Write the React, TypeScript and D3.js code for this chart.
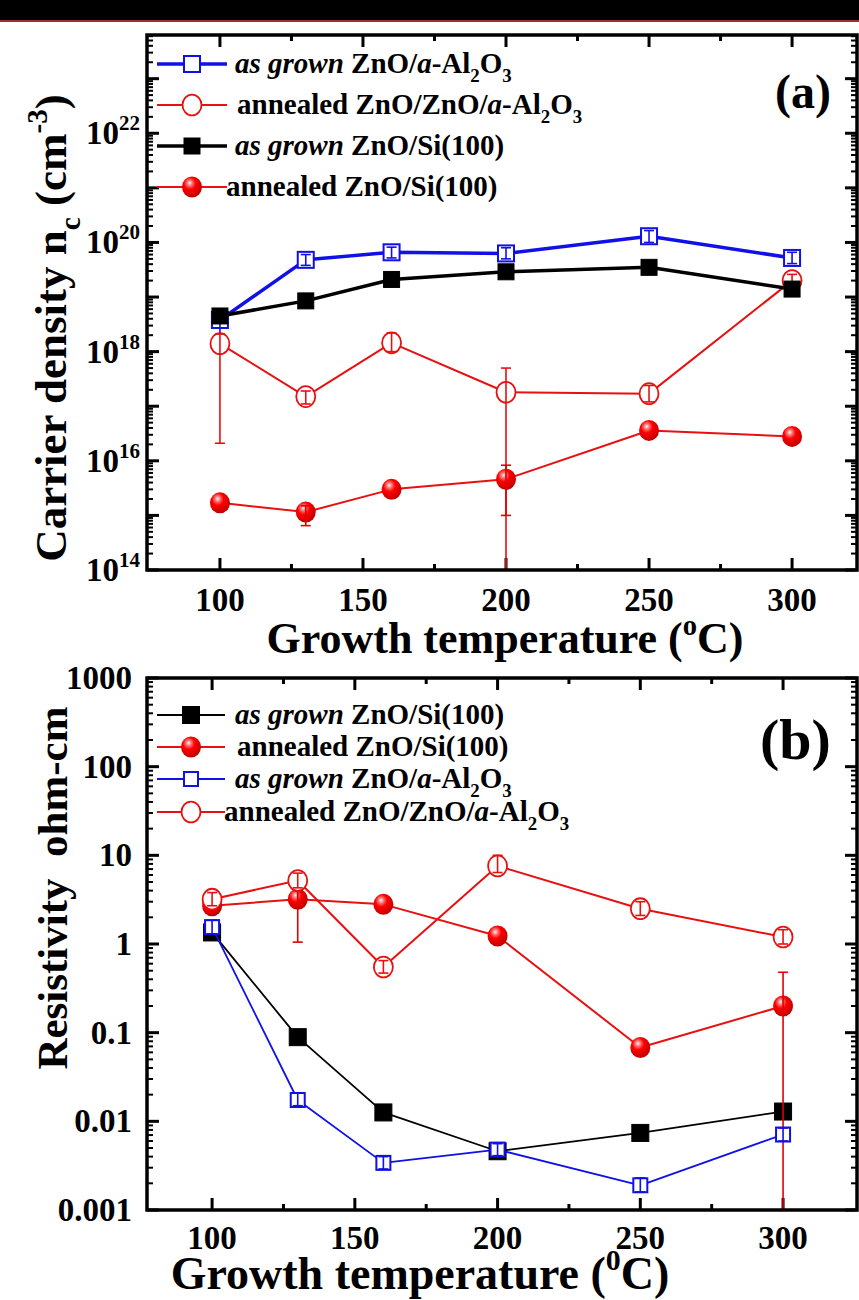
import React from 'react';
import * as d3 from 'd3';

// growth temperatures (°C)
const temps = [100, 130, 160, 200, 250, 300];

// (a) carrier density n_c (cm^-3)
const densAsGrownAl = [3.8e18, 4.8e19, 6.6e19, 6.3e19, 1.3e20, 5.2e19];
const densAnnealedAl = [1.4e18, 1.5e17, 1.45e18, 1.8e17, 1.7e17, 2.0e19];
const densAsGrownSi = [4.5e18, 8.5e18, 2.1e19, 2.9e19, 3.5e19, 1.4e19];
const densAnnealedSi = [1.7e15, 1.15e15, 3.0e15, 4.6e15, 3.6e16, 2.8e16];

// error bar ends [low, high] for (a), null = no bar
const densAsGrownAlErr = [[2.0e18, 5.0e18], [3.8e19, 6.0e19], [5.2e19, 8.2e19], [5.0e19, 8.0e19], [1.0e20, 1.65e20], [4.1e19, 6.6e19]];
const densAnnealedAlErr = [[2.1e16, 2.1e18], [1.1e17, 1.9e17], [1.0e18, 2.2e18], [1e12, 5.0e17], [1.2e17, 2.4e17], [1.5e19, 2.6e19]];
const densAsGrownSiErr = [null, null, null, null, null, null];
const densAnnealedSiErr = [null, [6.5e14, 1.5e15], null, [1.0e15, 8.3e15], null, null];

// (b) resistivity (ohm-cm)
const resAsGrownSi = [1.35, 0.089, 0.0126, 0.0046, 0.0074, 0.0129];
const resAnnealedSi = [2.7, 3.2, 2.8, 1.23, 0.068, 0.2];
const resAsGrownAl = [1.55, 0.0174, 0.0034, 0.0048, 0.0019, 0.0071];
const resAnnealedAl = [3.2, 5.2, 0.55, 7.6, 2.5, 1.2];

const resAsGrownSiErr = [null, null, null, null, null, null];
const resAnnealedSiErr = [null, [1.05, 4.0], null, null, null, [1e-5, 0.48]];
const resAsGrownAlErr = [[1.3, 1.85], [0.015, 0.021], [0.0029, 0.0040], [0.0041, 0.0056], [0.0016, 0.0023], [0.006, 0.0084]];
const resAnnealedAlErr = [[2.7, 3.8], [4.3, 6.3], [0.47, 0.65], [6.4, 10], [2.1, 3.0], [1.0, 1.45]];

const xMajor = [100, 150, 200, 250, 300];
const xMinor = [125, 175, 225, 275];
const resTickLabels = ['0.001', '0.01', '0.1', '1', '10', '100', '1000'];

const FONT = '"Liberation Serif", "Times New Roman", Times, serif';

type Seg = { t: string; it?: boolean; sub?: boolean; sup?: boolean };
type Marker = 'openSquare' | 'filledSquare' | 'openCircle' | 'sphere';
type Series = {
  values: number[];
  err: (number[] | null)[];
  color: string;
  lw: number;
  marker: Marker;
  size: number;
  label: Seg[];
};

const lblAsGrownAl: Seg[] = [{ t: 'as grown', it: true }, { t: ' ZnO/' }, { t: 'a', it: true }, { t: '-Al' }, { t: '2', sub: true }, { t: 'O' }, { t: '3', sub: true }];
const lblAnnealedAl: Seg[] = [{ t: 'annealed ZnO/ZnO/' }, { t: 'a', it: true }, { t: '-Al' }, { t: '2', sub: true }, { t: 'O' }, { t: '3', sub: true }];
const lblAsGrownSi: Seg[] = [{ t: 'as grown', it: true }, { t: ' ZnO/Si(100)' }];
const lblAnnealedSi: Seg[] = [{ t: 'annealed ZnO/Si(100)' }];

function RichText({ segs, size, ...rest }: any) {
  const out: any[] = [];
  let shifted = 0;
  segs.forEach((s: Seg, i: number) => {
    const target = s.sub ? size * 0.3 : s.sup ? -size * 0.42 : 0;
    const dy = target - shifted;
    shifted = target;
    out.push(
      <tspan key={i} dy={dy || undefined} fontStyle={s.it ? 'italic' : undefined}
        fontSize={s.sub || s.sup ? size * 0.65 : undefined}>{s.t}</tspan>
    );
  });
  return <text fontSize={size} fontFamily={FONT} fontWeight="bold" style={{ whiteSpace: 'pre' }} {...rest}>{out}</text>;
}

function Mark({ kind, x, y, size, color }: { kind: Marker; x: number; y: number; size: number; color: string }) {
  const h = size / 2;
  if (kind === 'openSquare') return <rect x={x - h} y={y - h} width={size} height={size} fill="white" stroke={color} strokeWidth={2} />;
  if (kind === 'filledSquare') return <rect x={x - h} y={y - h} width={size} height={size} fill={color} stroke={color} strokeWidth={1} />;
  if (kind === 'openCircle') return <ellipse cx={x} cy={y} rx={h} ry={h * 1.1} fill="white" stroke={color} strokeWidth={1.8} />;
  return <ellipse cx={x} cy={y} rx={h} ry={h * 1.05} fill="url(#sphere)" />;
}

type PanelProps = {
  id: string;
  box: { left: number; top: number; right: number; bottom: number };
  xDomain: number[];
  yDomain: number[];
  series: Series[];
  legend: { ys: number[]; x0: number; x1: number; tx: number[]; size: number };
  yLabel: (e: number, i: number) => any;
  xTickY: number;
  xTickSize: number;
  yTickX: number;
  tag: string;
  tagX: number;
  tagY: number;
  tagSize: number;
  xTitle: Seg[];
  xTitleX: number;
  xTitleY: number;
  xTitleSize: number;
  yTitle: Seg[];
  yTitleX: number;
  yTitleY: number;
  yTitleSize: number;
};

function Panel(p: PanelProps) {
  const { box } = p;
  const x = d3.scaleLinear().domain(p.xDomain).range([box.left, box.right]);
  const y = d3.scaleLog().domain(p.yDomain).range([box.bottom, box.top]);
  const e0 = Math.ceil(Math.log10(p.yDomain[0]));
  const e1 = Math.floor(Math.log10(p.yDomain[1]));
  const decades = d3.range(e0, e1 + 1);
  const minors: number[] = [];
  for (let e = e0 - 1; e <= e1; e++) {
    for (let k = 2; k <= 9; k++) {
      const v = k * Math.pow(10, e);
      if (v > p.yDomain[0] && v < p.yDomain[1]) minors.push(v);
    }
  }
  const line = d3.line<number>().x((_, i) => x(temps[i])).y((v) => y(v));
  const clipId = 'clip-' + p.id;
  const MAJ = 12, MIN = 6;
  return (
    <g>
      <defs>
        <clipPath id={clipId}>
          <rect x={box.left} y={box.top} width={box.right - box.left} height={box.bottom - box.top} />
        </clipPath>
      </defs>
      {/* ticks */}
      <g stroke="black" strokeWidth={3}>
        {xMajor.map((t) => (
          <g key={'xm' + t}>
            <line x1={x(t)} x2={x(t)} y1={box.bottom} y2={box.bottom - MAJ} />
            <line x1={x(t)} x2={x(t)} y1={box.top} y2={box.top + MAJ} />
          </g>
        ))}
        {xMinor.map((t) => (
          <g key={'xn' + t}>
            <line x1={x(t)} x2={x(t)} y1={box.bottom} y2={box.bottom - MIN} />
            <line x1={x(t)} x2={x(t)} y1={box.top} y2={box.top + MIN} />
          </g>
        ))}
        {decades.map((e) => (
          <g key={'ym' + e}>
            <line x1={box.left} x2={box.left + MAJ} y1={y(Math.pow(10, e))} y2={y(Math.pow(10, e))} />
            <line x1={box.right} x2={box.right - MAJ} y1={y(Math.pow(10, e))} y2={y(Math.pow(10, e))} />
          </g>
        ))}
      </g>
      <g stroke="black" strokeWidth={2}>
        {minors.map((v, i) => (
          <g key={'yn' + i}>
            <line x1={box.left} x2={box.left + MIN} y1={y(v)} y2={y(v)} />
            <line x1={box.right} x2={box.right - MIN} y1={y(v)} y2={y(v)} />
          </g>
        ))}
      </g>
      {/* series */}
      <g clipPath={`url(#${clipId})`}>
        {p.series.map((s, si) => (
          <g key={si}>
            <path d={line(s.values) || ''} fill="none" stroke={s.color} strokeWidth={s.lw} strokeLinejoin="round" />
            {s.values.map((v, i) => (
              <Mark key={i} kind={s.marker} x={x(temps[i])} y={y(v)} size={s.size} color={s.color} />
            ))}
            {s.err.map((e, i) =>
              e ? (
                <g key={'e' + i} stroke={s.marker === 'sphere' ? '#e00000' : s.color} strokeWidth={1.6}>
                  <line x1={x(temps[i])} x2={x(temps[i])} y1={y(e[0])} y2={y(e[1])} />
                  <line x1={x(temps[i]) - 5} x2={x(temps[i]) + 5} y1={y(e[0])} y2={y(e[0])} />
                  <line x1={x(temps[i]) - 5} x2={x(temps[i]) + 5} y1={y(e[1])} y2={y(e[1])} />
                </g>
              ) : null
            )}
          </g>
        ))}
      </g>
      {/* frame */}
      <rect x={box.left} y={box.top} width={box.right - box.left} height={box.bottom - box.top} fill="none" stroke="black" strokeWidth={3.5} />
      {/* tick labels */}
      {xMajor.map((t) => (
        <text key={'xl' + t} x={x(t)} y={p.xTickY} textAnchor="middle" fontFamily={FONT} fontWeight="bold" fontSize={p.xTickSize}>{t}</text>
      ))}
      {decades.map((e, i) => p.yLabel(e, i) ? (
        <g key={'yl' + e} transform={`translate(${p.yTickX},${y(Math.pow(10, e)) + 11})`}>{p.yLabel(e, i)}</g>
      ) : null)}
      {/* legend */}
      {p.series.map((s, si) => {
        const ly = p.legend.ys[si];
        const cx = (p.legend.x0 + p.legend.x1) / 2;
        return (
          <g key={'lg' + si}>
            <line x1={p.legend.x0} x2={p.legend.x1} y1={ly} y2={ly} stroke={s.color} strokeWidth={s.lw} />
            <Mark kind={s.marker} x={cx} y={ly} size={s.size} color={s.color} />
            <RichText segs={s.label} size={p.legend.size} x={p.legend.tx[si]} y={ly + 9} />
          </g>
        );
      })}
      <text x={p.tagX} y={p.tagY} fontFamily={FONT} fontWeight="bold" fontSize={p.tagSize}>{p.tag}</text>
      <RichText segs={p.xTitle} size={p.xTitleSize} x={p.xTitleX} y={p.xTitleY} textAnchor="middle" />
      <RichText segs={p.yTitle} size={p.yTitleSize} x={0} y={0} textAnchor="middle"
        transform={`translate(${p.yTitleX},${p.yTitleY}) rotate(-90)`} />
    </g>
  );
}

export default function App() {
  const seriesA: Series[] = [
    { values: densAsGrownAl, err: densAsGrownAlErr, color: '#1010e8', lw: 3.5, marker: 'openSquare', size: 16, label: lblAsGrownAl },
    { values: densAnnealedAl, err: densAnnealedAlErr, color: '#e81010', lw: 2, marker: 'openCircle', size: 19, label: lblAnnealedAl },
    { values: densAsGrownSi, err: densAsGrownSiErr, color: '#000000', lw: 3.5, marker: 'filledSquare', size: 16, label: lblAsGrownSi },
    { values: densAnnealedSi, err: densAnnealedSiErr, color: '#e81010', lw: 2, marker: 'sphere', size: 20, label: lblAnnealedSi },
  ];
  const seriesB: Series[] = [
    { values: resAsGrownSi, err: resAsGrownSiErr, color: '#000000', lw: 1.8, marker: 'filledSquare', size: 17, label: lblAsGrownSi },
    { values: resAnnealedSi, err: resAnnealedSiErr, color: '#e81010', lw: 2, marker: 'sphere', size: 20, label: lblAnnealedSi },
    { values: resAsGrownAl, err: resAsGrownAlErr, color: '#1010e8', lw: 1.8, marker: 'openSquare', size: 14, label: lblAsGrownAl },
    { values: resAnnealedAl, err: resAnnealedAlErr, color: '#e81010', lw: 2, marker: 'openCircle', size: 19, label: lblAnnealedAl },
  ];
  const FS_TICK = 33;
  return (
    <svg width={859} height={1300} style={{ position: 'absolute', left: 0, top: 0, background: 'white' }}>
      <defs>
        <radialGradient id="sphere" cx="40%" cy="35%" r="65%" fx="38%" fy="30%">
          <stop offset="0%" stopColor="#ffffff" />
          <stop offset="18%" stopColor="#ff8080" />
          <stop offset="45%" stopColor="#ff0000" />
          <stop offset="100%" stopColor="#c00000" />
        </radialGradient>
      </defs>
      <rect x={0} y={0} width={859} height={20} fill="black" />
      <line x1={0} x2={859} y1={21} y2={21} stroke="#a03030" strokeWidth={2} />
      <Panel
        id="a"
        box={{ left: 147, top: 35, right: 857, bottom: 570 }}
        xDomain={[74.5, 322.7]}
        yDomain={[1e14, Math.pow(10, 23.8)]}
        series={seriesA}
        legend={{ ys: [64, 105, 146, 187], x0: 157, x1: 227, tx: [235, 237, 235, 226], size: 29 }}
        yLabel={(e) => e % 2 === 0 ? (
          <text textAnchor="end" fontFamily={FONT} fontWeight="bold" fontSize={FS_TICK}>
            <tspan>10</tspan><tspan dy={-14} fontSize={21}>{e}</tspan>
          </text>
        ) : null}
        xTickY={611}
        xTickSize={FS_TICK}
        yTickX={140}
        tag="(a)"
        tagX={775}
        tagY={108}
        tagSize={48}
        xTitle={[{ t: 'Growth temperature (' }, { t: 'o', sup: true }, { t: 'C)' }]}
        xTitleX={505}
        xTitleY={653}
        xTitleSize={44}
        yTitle={[{ t: 'Carrier density n' }, { t: 'c', sub: true }, { t: ' (cm' }, { t: '-3', sup: true }, { t: ')' }]}
        yTitleX={66}
        yTitleY={328}
        yTitleSize={45}
      />
      <Panel
        id="b"
        box={{ left: 147, top: 678, right: 857, bottom: 1210 }}
        xDomain={[77.2, 325.9]}
        yDomain={[1e-3, 1e3]}
        series={seriesB}
        legend={{ ys: [715, 747, 779, 812], x0: 157, x1: 225, tx: [235, 237, 235, 224], size: 29 }}
        yLabel={(e, i) => (
          <text textAnchor="end" fontFamily={FONT} fontWeight="bold" fontSize={FS_TICK}>{resTickLabels[i]}</text>
        )}
        xTickY={1249}
        xTickSize={FS_TICK}
        yTickX={132}
        tag="(b)"
        tagX={760}
        tagY={759}
        tagSize={58}
        xTitle={[{ t: 'Growth temperature (' }, { t: '0', sup: true }, { t: 'C)' }]}
        xTitleX={420}
        xTitleY={1289}
        xTitleSize={46}
        yTitle={[{ t: 'Resistivity\u00a0\u00a0ohm-cm' }]}
        yTitleX={67}
        yTitleY={888}
        yTitleSize={43}
      />
    </svg>
  );
}
